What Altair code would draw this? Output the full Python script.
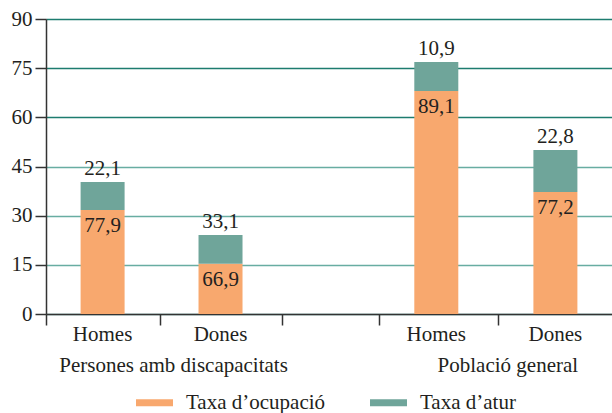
import altair as alt
import pandas as pd

# Categories
grups = ["Persones amb discapacitats", "Persones amb discapacitats",
         "Població general", "Població general"]
sexes = ["Homes", "Dones", "Homes", "Dones"]
# slot of each bar along the x scale (two groups with a gap between them)
slot = [0.48, 1.48, 3.31, 4.32]

# Heights of the stacked segments (activity split into employed / unemployed)
ocupacio_alt = [31.7, 15.3, 68.0, 37.2]
atur_alt = [8.6, 8.8, 8.9, 12.8]

# Percentages printed on the bars
taxa_ocupacio = [77.9, 66.9, 89.1, 77.2]
taxa_atur = [22.1, 33.1, 10.9, 22.8]

series = ["Taxa d’ocupació", "Taxa d’atur"]
colors = ["#f8a86e", "#6fa59a"]

# x-axis tick marks between categories
x_ticks = [0, 0.97, 2.0, 2.82, 3.83]
y_ticks = [0, 15, 30, 45, 60, 75, 90]

FONT = "Liberation Serif"
FS = 21
INK = "#231f20"

rows = []
for i in range(len(sexes)):
    rows.append({"slot": slot[i], "serie": series[0], "valor": ocupacio_alt[i], "ordre": 0})
    rows.append({"slot": slot[i], "serie": series[1], "valor": atur_alt[i], "ordre": 1})
long_df = pd.DataFrame(rows)

wide_df = pd.DataFrame({
    "slot": slot,
    "sexe": sexes,
    "grup": grups,
    "ocupacio": ocupacio_alt,
    "total": [a + b for a, b in zip(ocupacio_alt, atur_alt)],
    "t_ocup": taxa_ocupacio,
    "t_atur": taxa_atur,
})

x_scale = alt.Scale(domain=[0, 4.8], nice=False, zero=False, padding=0)
y_scale = alt.Scale(domain=[0, 90], nice=False, padding=0)

bars = alt.Chart(long_df).mark_bar(size=44).encode(
    x=alt.X("slot:Q", scale=x_scale,
            axis=alt.Axis(values=x_ticks, labels=False, title=None, grid=False,
                          tickSize=11, tickWidth=1.5, tickColor="#333",
                          domainColor="#333", domainWidth=1.5)),
    y=alt.Y("valor:Q", stack="zero", scale=y_scale,
            axis=alt.Axis(values=y_ticks, title=None, tickSize=11, tickWidth=1.5,
                          tickColor="#333", domainColor="#333", domainWidth=1.5,
                          labelFont=FONT, labelFontSize=FS, labelColor=INK,
                          labelPadding=3,
                          grid=True, gridWidth=1.5,
                          gridColor={"condition": {"test": "datum.value >= 60",
                                                   "value": "#1d7c6f"},
                                     "value": "#68ada2"})),
    color=alt.Color("serie:N", scale=alt.Scale(domain=series, range=colors),
                    legend=alt.Legend(title=None, orient="none", direction="horizontal",
                                      legendX=90, legendY=365, padding=0,
                                      symbolType="M-1,-0.19H1V0.19H-1Z",
                                      symbolSize=1369, symbolStrokeWidth=0,
                                      symbolOpacity=1,
                                      labelFont=FONT, labelFontSize=FS,
                                      labelColor=INK, labelOffset=13,
                                      labelLimit=300, columnPadding=44)),
    order=alt.Order("ordre:Q"),
)

top_labels = alt.Chart(wide_df).transform_calculate(
    txt="replace(format(datum.t_atur, '.1f'), '.', ',')"
).mark_text(font=FONT, fontSize=FS, color=INK, baseline="alphabetic", dy=-7).encode(
    x="slot:Q", y="total:Q", text="txt:N"
)

inner_labels = alt.Chart(wide_df).transform_calculate(
    txt="replace(format(datum.t_ocup, '.1f'), '.', ',')"
).mark_text(font=FONT, fontSize=FS, color=INK, baseline="alphabetic", dy=22).encode(
    x="slot:Q", y="ocupacio:Q", text="txt:N"
)

cat_labels = alt.Chart(wide_df).mark_text(
    font=FONT, fontSize=FS, color=INK, baseline="alphabetic", dy=27
).encode(x="slot:Q", y=alt.datum(0), text="sexe:N")

group_labels = alt.Chart(wide_df).transform_aggregate(
    slot="mean(slot)", groupby=["grup"]
).mark_text(
    font=FONT, fontSize=FS, color=INK, baseline="alphabetic", dy=58, dx=12
).encode(x="slot:Q", y=alt.datum(0), text="grup:N")

chart = alt.layer(bars, top_labels, inner_labels, cat_labels, group_labels).properties(
    width=566, height=295,
    autosize=alt.AutoSizeParams(type="none"),
    padding={"left": 46, "top": 19, "right": 0, "bottom": 99},
).configure_view(strokeWidth=0).configure(background="white")

chart.save("out.html", embed_options={"renderer": "svg", "actions": False})
